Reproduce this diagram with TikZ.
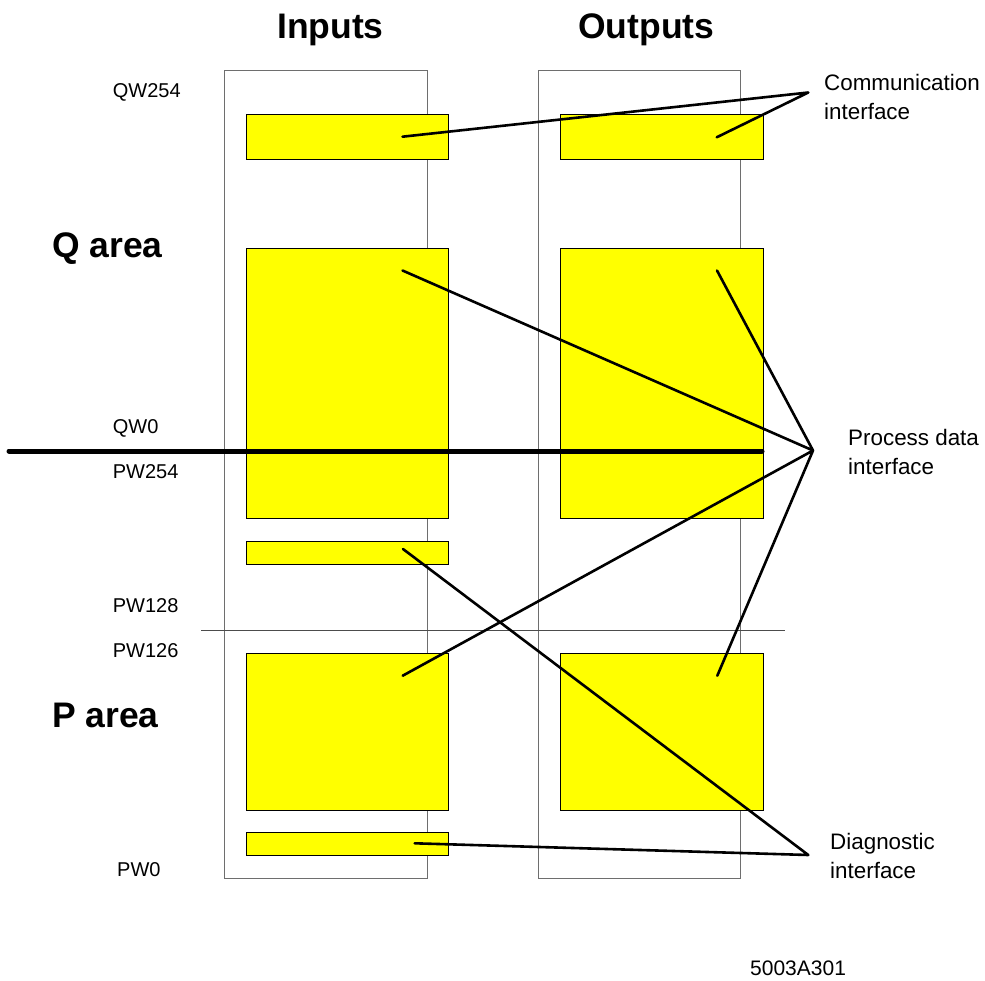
\documentclass[tikz,border=0pt]{standalone}
\usepackage{fontspec}
\setmainfont{Liberation Sans}
\definecolor{yfill}{RGB}{255,255,0}
\definecolor{framegray}{RGB}{110,110,110}
\begin{document}
\begin{tikzpicture}[x=1pt,y=-1pt,
  frame/.style={draw=framegray,line width=1.1pt,fill=none,inner sep=0pt,anchor=north west},
  ybox/.style={draw=black,fill=yfill,line width=1.4pt,inner sep=0pt,anchor=north west},
  conn/.style={line width=2.6pt,line cap=round,line join=round},
  head/.style={font=\fontsize{35.5}{40}\selectfont\bfseries,inner sep=0pt,anchor=base west},
  addr/.style={font=\fontsize{20}{24}\selectfont,inner sep=0pt,anchor=base west},
  lbl/.style={font=\fontsize{22.4}{29}\selectfont,inner sep=0pt,anchor=base west,align=left}]
\useasboundingbox (0,0) rectangle (985,981);
% frames
\node[frame,minimum width=203pt,minimum height=808pt] (fin) at (223.5,70) {};
\node[frame,minimum width=202pt,minimum height=808pt] (fout) at (538,70) {};
% separator
\draw[black!70,line width=1pt] (201,630) coordinate (sepL) -- (785,630) coordinate (sepR);
% yellow boxes
\node[ybox,minimum width=202pt,minimum height=45pt] (ci) at (246,114) {};
\node[ybox,minimum width=203pt,minimum height=45pt] (co) at (559.5,114) {};
\node[ybox,minimum width=202pt,minimum height=270pt] (qi) at (246,248) {};
\node[ybox,minimum width=203pt,minimum height=270pt] (qo) at (559.5,248) {};
\node[ybox,minimum width=202pt,minimum height=23pt] (di) at (246,540.5) {};
\node[ybox,minimum width=202pt,minimum height=157pt] (pi) at (246,652.5) {};
\node[ybox,minimum width=203pt,minimum height=157pt] (po) at (559.5,652.5) {};
\node[ybox,minimum width=202pt,minimum height=23pt] (dbi) at (246,832) {};
% thick boundary line
\coordinate (bl) at (9,451);
\coordinate (br) at (762,451);
\draw[line width=5pt,line cap=round] (bl) -- (br);
% headings and labels
\node[head] (tin) at (277,39) {Inputs};
\node[head] (tout) at (578,39) {Outputs};
\node[head] (tq) at (52,258) {Q area};
\node[head] (tp) at (52,727) {P area};
\node[addr] (aq254) at (112.7,97.3) {QW254};
\node[addr] (aq0) at (112.7,433.3) {QW0};
\node[addr] (ap254) at (112.7,478.3) {PW254};
\node[addr] (ap128) at (112.7,612.3) {PW128};
\node[addr] (ap126) at (112.7,657.3) {PW126};
\node[addr] (ap0) at (117,876) {PW0};
\node[lbl] (lcomm) at (824,120) {Communication\\interface};
\node[lbl] (lproc) at (848,474) {Process data\\interface};
\node[lbl] (ldiag) at (830,878) {Diagnostic\\interface};
\node[addr,font=\fontsize{21}{24}\selectfont] (fig) at (750,975) {5003A301};
% connector end points
\coordinate (cc) at (808.3,92.5);
\coordinate (pc) at (813,450.5);
\coordinate (dc) at (808.3,855);
\coordinate (ci-p) at (402.5,136.7);
\coordinate (co-p) at (716.7,137.3);
\coordinate (qi-p) at (402.5,270.5);
\coordinate (qo-p) at (717,270.5);
\coordinate (pi-p) at (402.7,675.7);
\coordinate (po-p) at (717.3,675.7);
\coordinate (di-p) at (403,549);
\coordinate (dbi-p) at (414.7,843.3);
% connectors
\draw[conn] (ci-p) -- (cc) -- (co-p);
\draw[conn] (qi-p) -- (pc) -- (qo-p);
\draw[conn] (pi-p) -- (pc) -- (po-p);
\draw[conn] (di-p) -- (dc) -- (dbi-p);
\end{tikzpicture}
\end{document}
